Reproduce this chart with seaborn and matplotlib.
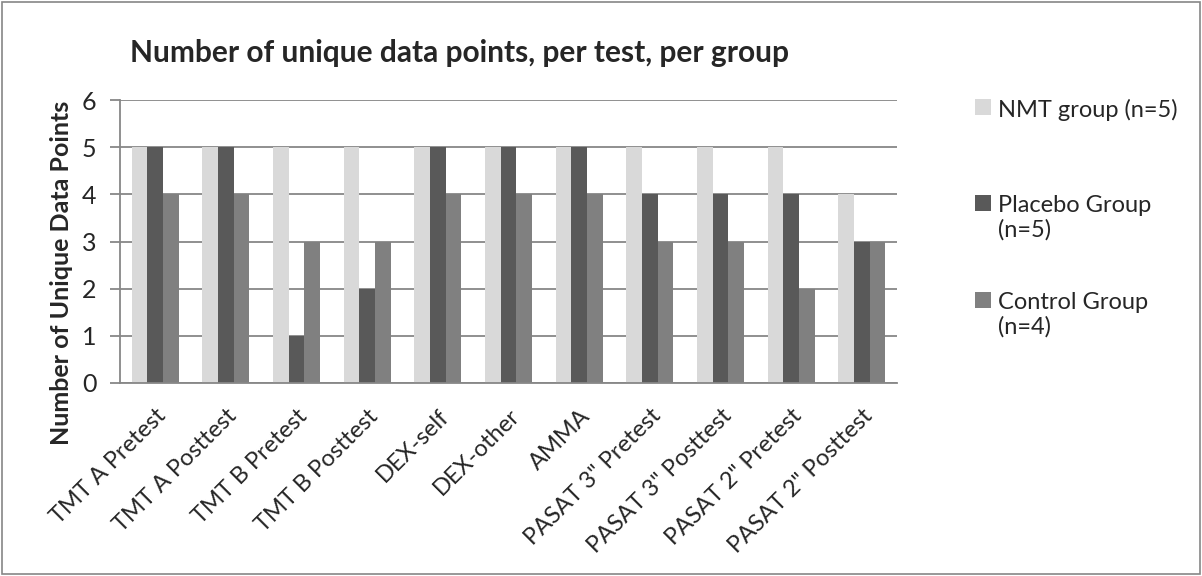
import numpy as np
import pandas as pd
import matplotlib
matplotlib.use("Agg")
import matplotlib.pyplot as plt
import seaborn as sns
from matplotlib.patches import Rectangle

tests = ["TMT A Pretest", "TMT A Posttest", "TMT B Pretest", "TMT B Posttest",
         "DEX-self", "DEX-other", "AMMA", "PASAT 3\" Pretest", "PASAT 3\" Posttest",
         "PASAT 2\" Pretest", "PASAT 2\" Posttest"]
groups = ["NMT group (n=5)", "Placebo Group (n=5)", "Control Group (n=4)"]
legend_labels = ["NMT group (n=5)", "Placebo Group\n(n=5)", "Control Group\n(n=4)"]
nmt = [5, 5, 5, 5, 5, 5, 5, 5, 5, 5, 4]
placebo = [5, 5, 1, 2, 5, 5, 5, 4, 4, 4, 3]
control = [4, 4, 3, 3, 4, 4, 4, 3, 3, 2, 3]
colors = ["#D9D9D9", "#595959", "#808080"]

df = pd.DataFrame({
    "test": tests * 3,
    "group": [groups[0]] * len(tests) + [groups[1]] * len(tests) + [groups[2]] * len(tests),
    "value": nmt + placebo + control,
})

sns.set_theme(style="white")
plt.rcParams["font.family"] = ["Lato", "DejaVu Sans"]

W, H = 1202, 576
fig = plt.figure(figsize=(W / 100, H / 100), dpi=100)
ax = fig.add_axes([120 / W, 1 - 383 / H, 777 / W, 283 / H])

sns.barplot(data=df, x="test", y="value", hue="group", order=tests, hue_order=groups,
            palette=colors, width=0.666, saturation=1, ax=ax, legend=False,
            edgecolor="none", linewidth=0, zorder=3)

grid_c = "#878787"
ax.set_ylim(0, 6)
ax.set_xlim(-0.5, len(tests) - 0.5)
ax.set_yticks(range(0, 7))
ax.yaxis.grid(True, color=grid_c, linewidth=1.3, zorder=0)
ax.set_axisbelow(True)
for s in ["top", "right"]:
    ax.spines[s].set_visible(False)
for s in ["left", "bottom"]:
    ax.spines[s].set_color(grid_c)
    ax.spines[s].set_linewidth(1.3)
    ax.spines[s].set_zorder(4)

ax.set_xticks(range(len(tests)))
ax.set_xticklabels(tests, rotation=45, ha="right", rotation_mode="anchor", fontsize=17)
ax.set_xticks(np.arange(-0.5, len(tests), 1), minor=True)
ax.tick_params(axis="x", which="major", length=0, pad=16)
ax.tick_params(axis="x", which="minor", length=7, width=1.3, color=grid_c, direction="out")
ax.tick_params(axis="y", length=7, width=1.3, color=grid_c, direction="out", labelsize=18, pad=10)
ax.tick_params(bottom=True, left=True)
ax.set_xlabel("")
ax.set_ylabel("Number of Unique Data Points", fontsize=18, fontweight="bold")
ax.yaxis.set_label_coords(-0.06, 0.39)

fig.text(130 / W, 1 - 62 / H, "Number of unique data points, per test, per group",
         fontsize=21.5, fontweight="bold", ha="left", va="baseline")

tops = [99, 195, 292]
for lab, c, t in zip(legend_labels, colors, tops):
    h = Rectangle((0, 0), 1, 1, facecolor=c, edgecolor="none")
    leg = fig.legend([h], [lab], loc="upper left", bbox_to_anchor=(975 / W, 1 - t / H),
                     frameon=False, fontsize=17, handlelength=0.68, handleheight=0.68,
                     handletextpad=0.3, borderpad=0, borderaxespad=0)
    try:
        for col in leg._legend_handle_box.get_children():
            for item in col.get_children():
                item.align = "top"
    except Exception:
        pass

fig.patches.append(Rectangle((0.0015, 0.003), 0.997, 0.994, transform=fig.transFigure,
                             fill=False, edgecolor="#868686", linewidth=1.2))

fig.savefig("out.png", dpi=100)
